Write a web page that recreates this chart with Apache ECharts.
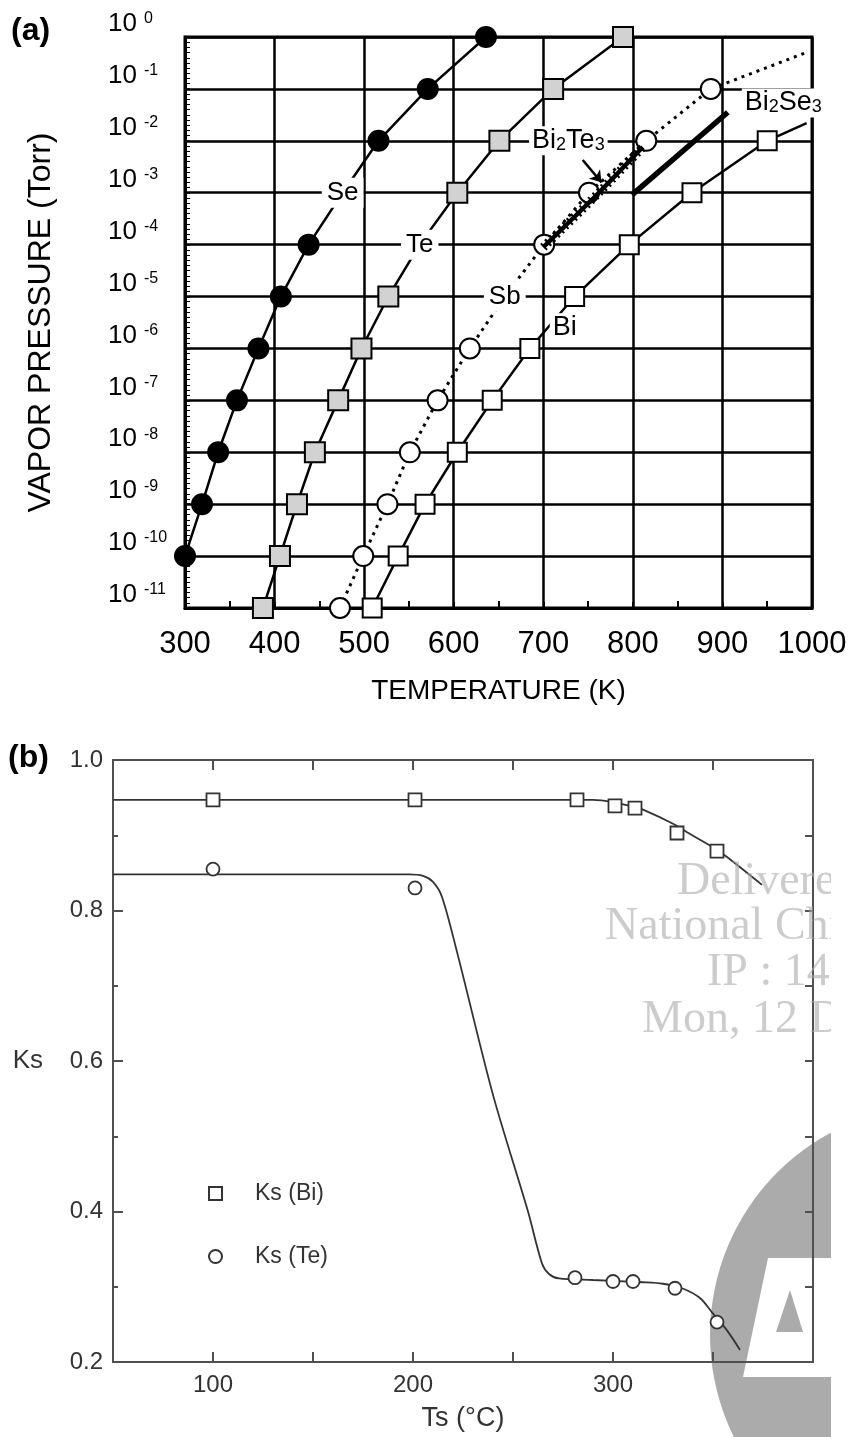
<!DOCTYPE html>
<html><head><meta charset="utf-8">
<script src="https://cdn.jsdelivr.net/npm/echarts@6/dist/echarts.min.js"></script>
<style>html,body{margin:0;padding:0;background:#fff}#c{width:851px;height:1437px}</style>
</head><body><div id="c"></div>
<script>
// ---------- Panel (a): vapour pressure vs temperature ----------
// pressure decades (log10 Torr) at which each curve's temperature is read
const pExp = [-11,-10,-9,-8,-7,-6,-5,-4,-3,-2,-1,0];
const yTickLabels = ['-11','-10','-9','-8','-7','-6','-5','-4','-3','-2','-1','0'];
// temperatures (K) at each decade above (null = no point)
const seT = [null,300,319,337,358,382,407,438,476,516,571,636];
const teT = [387,406,425,445,471,497,527,562,604,651,711,789];
const sbT = [473,499,526,551,582,618,657,701,751,815,887,null];
const biT = [509,538,568,604,643,685,735,796,866,950,null,null];
// curve continuations beyond last marker
const sbTailT = [995]; const sbTailExp = [-0.29];
const biTailT = [994]; const biTailExp = [-1.66];
// decades where curve names sit on the curve
const seLabelExp = -3, teLabelExp = -4, sbLabelExp = -5;
// compound curves
const bi2te3T = [700,762,811]; const bi2te3Exp = [-4.05,-3.0,-2.12];
const bi2se3T = [799,906];     const bi2se3Exp = [-3.04,-1.45];
// annotations
const annoText = ['Bi2Te3','Bi2Se3','Bi'];
const annoT = [728,968,724];
const annoExp = [-2.0,-1.27,-5.6];
const arrowT = [744,765]; const arrowExp = [-2.37,-2.8];

// ---------- Panel (b): Ks vs substrate temperature ----------
const biTs = [100,201,282,301,311,332,352];
const ksBi = [0.947,0.947,0.947,0.939,0.936,0.903,0.879];
const teTs = [100,201,281,300,310,331,352];
const ksTe = [0.855,0.830,0.312,0.307,0.307,0.298,0.253];
const biFitTs = [50,290,300,310,315,331,337,350,357,374.5];
const biFitKs = [0.947,0.947,0.944,0.938,0.934,0.914,0.904,0.884,0.871,0.834];
const teFitTs = [50,198,205,210,214.5,222,240,257.5,264.5,268,273,290,315,325,334.5,343.5,349.5,357,363.5];
const teFitKs = [0.848,0.848,0.846,0.838,0.818,0.745,0.555,0.40,0.331,0.317,0.311,0.309,0.306,0.304,0.298,0.285,0.266,0.242,0.216];
const xTickLabelsB = [100,200,300];

const FONT = 'Liberation Sans, Arial, Helvetica, sans-serif';
const hidden = {color:'rgba(0,0,0,0)', borderColor:'rgba(0,0,0,0)', borderWidth:0, opacity:1};

function curveData(temps, labelExp, labelText) {
  const out = [];
  temps.forEach((t, i) => {
    if (t == null) return;
    if (pExp[i] === labelExp) {
      out.push({value:[t,pExp[i]], symbol:'circle', symbolSize:1, itemStyle:hidden,
        label:{show:true, formatter:labelText, position:'inside',
        fontSize:26, color:'#000', fontFamily:FONT, backgroundColor:'#fff', padding:[2,5]}});
    } else out.push([t, pExp[i]]);
  });
  return out;
}
const zip = (a,b) => a.map((v,i)=>[v,b[i]]);
const sub = s => s.replace(/(\d)/g, '{s|$1}');

const sbData = curveData(sbT, sbLabelExp, 'Sb').concat(sbTailT.map((t,i)=>({value:[t,sbTailExp[i]], symbol:'none'})));
const biData = curveData(biT, null, '').concat(biTailT.map((t,i)=>({value:[t,biTailExp[i]], symbol:'none'})));

const chart = echarts.init(document.getElementById('c'), null, {renderer:'canvas'});
const axA = '#000', axB = '#505050';
const option = {
  animation:false,
  backgroundColor:'#fff',
  textStyle:{fontFamily:FONT},
  grid:[
    {left:185, top:37, width:627, height:571, show:true, borderColor:'#000', borderWidth:3, backgroundColor:'transparent'},
    {left:113, top:760, width:700, height:602, show:false}
  ],
  xAxis:[
    {gridIndex:0, type:'value', min:300, max:1000, interval:100,
     axisLine:{show:true, onZero:false, lineStyle:{color:axA, width:3}},
     axisTick:{show:true, inside:true, length:6, lineStyle:{color:axA, width:2}},
     minorTick:{show:true, splitNumber:2, length:7, lineStyle:{color:axA, width:2}},
     splitLine:{show:true, lineStyle:{color:axA, width:2.5}},
     axisLabel:{fontSize:31, color:'#000', margin:21, showMinLabel:true, showMaxLabel:true, formatter:v => String(v)},
     name:'TEMPERATURE (K)', nameLocation:'middle', nameGap:69,
     nameTextStyle:{fontSize:28, color:'#000'}},
    {gridIndex:1, type:'value', min:50, max:400, interval:50, position:'bottom',
     axisLine:{show:true, onZero:false, lineStyle:{color:axB, width:2}},
     axisTick:{show:true, inside:true, length:10, lineStyle:{color:axB, width:2}},
     splitLine:{show:false},
     axisLabel:{fontSize:24, color:'#333', margin:11,
       formatter:v => xTickLabelsB.includes(v) ? String(v) : ''},
     name:'Ts (°C)', nameLocation:'middle', nameGap:43,
     nameTextStyle:{fontSize:27, color:'#333'}},
    {gridIndex:1, type:'value', min:50, max:400, interval:50, position:'top',
     axisLine:{show:true, onZero:false, lineStyle:{color:axB, width:2}},
     axisTick:{show:true, inside:true, length:10, lineStyle:{color:axB, width:2}},
     splitLine:{show:false}, axisLabel:{show:false}}
  ],
  yAxis:[
    {gridIndex:0, type:'value', min:-11, max:0, interval:1,
     axisLine:{show:true, onZero:false, lineStyle:{color:axA, width:3}},
     axisTick:{show:true, inside:true, length:5, lineStyle:{color:axA, width:1.5}},
     minorTick:{show:true, splitNumber:10, length:5, lineStyle:{color:axA, width:1}},
     splitLine:{show:true, lineStyle:{color:axA, width:2.5}},
     axisLabel:{align:'left', margin:77, verticalAlign:'bottom', showMinLabel:true, showMaxLabel:true,
       formatter:v => '{b|10}{s|' + yTickLabels[pExp.indexOf(Math.round(v))] + '}',
       rich:{b:{fontSize:26, color:'#000', lineHeight:26},
             s:{fontSize:16, color:'#000', verticalAlign:'top', lineHeight:18, padding:[0,0,0,7]}}},
     name:'VAPOR PRESSURE (Torr)', nameLocation:'middle', nameRotate:90, nameGap:128,
     nameTextStyle:{fontSize:32, color:'#000'}},
    {gridIndex:1, type:'value', min:0.2, max:1.0, interval:0.2,
     axisLine:{show:true, onZero:false, lineStyle:{color:axB, width:2}},
     axisTick:{show:true, inside:true, length:10, lineStyle:{color:axB, width:2}},
     minorTick:{show:true, splitNumber:2, length:5, lineStyle:{color:axB, width:2}},
     splitLine:{show:false},
     axisLabel:{fontSize:24, color:'#333', margin:10, formatter:v => v.toFixed(1)},
     name:'Ks', nameLocation:'middle', nameRotate:0, nameGap:70,
     nameTextStyle:{fontSize:26, color:'#333'}},
    {gridIndex:1, type:'value', min:0.2, max:1.0, interval:0.1, position:'right',
     axisLine:{show:true, onZero:false, lineStyle:{color:axB, width:2}},
     axisTick:{show:true, inside:true, length:8, lineStyle:{color:axB, width:2}},
     splitLine:{show:false}, axisLabel:{show:false}}
  ],
  legend:{data:['Ks (Bi)','Ks (Te)'], orient:'vertical', left:203, top:1177, itemWidth:13, itemHeight:13,
    itemGap:40, selectedMode:false, textStyle:{fontSize:23, color:'#333', padding:[0,0,0,28]}},
  series:[
    {name:'Se', type:'line', xAxisIndex:0, yAxisIndex:0, data:curveData(seT, seLabelExp, 'Se'),
     symbol:'circle', symbolSize:22, itemStyle:{color:'#000'}, lineStyle:{color:'#000', width:2.5}, z:3},
    {name:'Te', type:'line', xAxisIndex:0, yAxisIndex:0, data:curveData(teT, teLabelExp, 'Te'),
     symbol:'rect', symbolSize:20, itemStyle:{color:'#d2d2d2', borderColor:'#000', borderWidth:2},
     lineStyle:{color:'#000', width:2.5}, z:3},
    {name:'Sb', type:'line', xAxisIndex:0, yAxisIndex:0, data:sbData,
     symbol:'circle', symbolSize:20, itemStyle:{color:'#fff', borderColor:'#000', borderWidth:2},
     lineStyle:{color:'#000', width:3, type:[3,5]}, z:3},
    {name:'Bi', type:'line', xAxisIndex:0, yAxisIndex:0, data:biData,
     symbol:'rect', symbolSize:19, itemStyle:{color:'#fff', borderColor:'#000', borderWidth:2},
     lineStyle:{color:'#000', width:2.5}, z:3},
    {name:'Bi2Te3', type:'line', xAxisIndex:0, yAxisIndex:0, data:zip(bi2te3T, bi2te3Exp),
     symbol:'none', smooth:0.3, lineStyle:{color:'#000', width:4.5}, z:4},
    {name:'Bi2Te3 hatch', type:'line', xAxisIndex:0, yAxisIndex:0, data:zip(bi2te3T, bi2te3Exp),
     symbol:'none', smooth:0.3, lineStyle:{color:'#000', width:9, type:[2,4]}, z:4},
    {name:'Bi2Se3', type:'line', xAxisIndex:0, yAxisIndex:0, data:zip(bi2se3T, bi2se3Exp),
     symbol:'none', lineStyle:{color:'#000', width:5.5}, z:4},
    {name:'labels', type:'line', xAxisIndex:0, yAxisIndex:0, symbol:'circle', symbolSize:1, z:6,
     itemStyle:hidden, lineStyle:{width:0, opacity:0}, showAllSymbol:true,
     data:annoText.map((t,i)=>({value:[annoT[i], annoExp[i]], label:{formatter:sub(t)}})),
     label:{show:true, position:'inside', fontSize:27, color:'#000', opacity:1, fontFamily:FONT,
       backgroundColor:'#fff', padding:[1,3],
       rich:{s:{fontSize:18, color:'#000', verticalAlign:'bottom', lineHeight:27}}},
     markLine:{silent:true, symbol:['none','arrow'], symbolSize:11, label:{show:false},
       lineStyle:{color:'#000', width:2.5, type:'solid', opacity:1},
       data:[[{coord:[arrowT[0], arrowExp[0]]},{coord:[arrowT[1], arrowExp[1]]}]]}},
    // panel (b)
    {name:'Bi fit', type:'line', xAxisIndex:1, yAxisIndex:1, data:zip(biFitTs, biFitKs), symbol:'none',
     smooth:0.3, lineStyle:{color:'#333', width:1.8}, z:2},
    {name:'Te fit', type:'line', xAxisIndex:1, yAxisIndex:1, data:zip(teFitTs, teFitKs), symbol:'none',
     smooth:0.3, lineStyle:{color:'#333', width:1.8}, z:2},
    {name:'Ks (Bi)', type:'scatter', xAxisIndex:1, yAxisIndex:1, data:zip(biTs, ksBi), symbol:'rect',
     symbolSize:13, itemStyle:{color:'#fff', borderColor:'#333', borderWidth:1.8, opacity:1}, z:5},
    {name:'Ks (Te)', type:'scatter', xAxisIndex:1, yAxisIndex:1, data:zip(teTs, ksTe), symbol:'circle',
     symbolSize:13, itemStyle:{color:'#fff', borderColor:'#333', borderWidth:1.8, opacity:1}, z:5}
  ],
  graphic:[
    {type:'text', left:11, top:15, z:10, style:{text:'(a)', fontSize:32, fontWeight:'bold', fontFamily:FONT, fill:'#000'}},
    {type:'text', left:8, top:742, z:10, style:{text:'(b)', fontSize:32, fontWeight:'bold', fontFamily:FONT, fill:'#000'}},
    {type:'circle', z:-1, shape:{cx:940, cy:1335, r:230}, style:{fill:'#ababab'}},
    {type:'polygon', z:-1, shape:{points:[[743,1377],[768,1258],[835,1258],[835,1377]]}, style:{fill:'#fff'}},
    {type:'polygon', z:-1, shape:{points:[[776,1332],[790,1290],[803,1332]]}, style:{fill:'#ababab'}},
    {type:'text', z:8, style:{text:'Delivered', x:677, y:882, textVerticalAlign:'middle', fontSize:46, fontFamily:'Liberation Serif, serif', fill:'rgba(170,170,170,0.6)'}},
    {type:'text', z:8, style:{text:'National Chiao', x:605, y:927, textVerticalAlign:'middle', fontSize:46, fontFamily:'Liberation Serif, serif', fill:'rgba(170,170,170,0.6)'}},
    {type:'text', z:8, style:{text:'IP : 140', x:707, y:973, textVerticalAlign:'middle', fontSize:46, fontFamily:'Liberation Serif, serif', fill:'rgba(170,170,170,0.6)'}},
    {type:'text', z:8, style:{text:'Mon, 12 Dec', x:642, y:1020, textVerticalAlign:'middle', fontSize:46, fontFamily:'Liberation Serif, serif', fill:'rgba(170,170,170,0.6)'}},
    {type:'rect', z:50, shape:{x:831, y:840, width:30, height:600}, style:{fill:'#fff'}}
  ]
};
chart.setOption(option);
</script>
</body></html>
